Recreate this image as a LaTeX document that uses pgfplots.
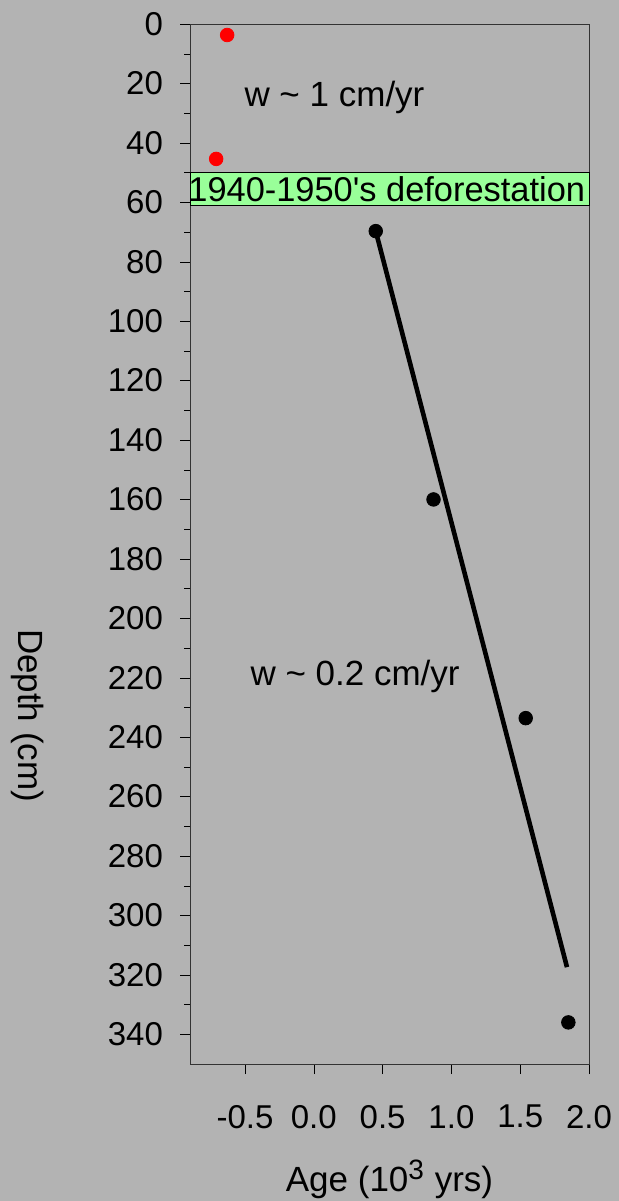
\documentclass[border=0pt]{standalone}
\usepackage{fontspec}
\setmainfont{Liberation Sans}
\usepackage{pgfplots}
\pgfplotsset{compat=1.18}
\definecolor{bggray}{RGB}{179,179,179}
\definecolor{boxgreen}{RGB}{153,255,153}

\begin{document}
\begin{tikzpicture}
\fill[bggray] (0,0) rectangle (309.5pt,600.5pt);
\useasboundingbox (0,0) rectangle (309.5pt,600.5pt);
\begin{axis}[
    at={(95pt,68.5pt)}, anchor=south west,
    width=199.5pt, height=520pt, scale only axis,
    xmin=-0.9, xmax=2.0,
    ymin=0, ymax=350,
    y dir=reverse,
    xtick={-0.5,0,0.5,1,1.5,2},
    ytick={0,20,...,340},
    minor y tick num=1,
    xtick pos=bottom, ytick pos=left,
    tick align=outside,
    major tick length=5pt, minor tick length=3pt,
    axis line style={black!80},
    tick style={black},
    /pgf/number format/assume math mode=true,
    xticklabel style={/pgf/number format/.cd, fixed, fixed zerofill, precision=1, /tikz/.cd, yshift=-12pt},
    yticklabel style={xshift=-5pt},
    every tick label/.append style={font=\fontsize{16.5}{19}\selectfont},
    label style={font=\fontsize{17.5}{21}\selectfont},
    xlabel={Age (10\textsuperscript{\fontsize{14}{16}\selectfont 3} yrs)},
    xlabel style={at={(axis description cs:0.5,-0.111)}, anchor=center},
    ylabel={Depth (cm)},
    ylabel style={at={(axis description cs:-0.408,0.335)}, anchor=center, rotate=180},
    clip=false,
]
\draw[black, fill=boxgreen] (axis cs:-0.9,50) rectangle (axis cs:2.0,61);
\node[font=\fontsize{17.2}{20}\selectfont] at (axis cs:0.53,55.5) {1940-1950\textquotesingle s deforestation};

\addplot[only marks, mark=*, mark size=3.4pt, red] coordinates {
    (-0.63,3.7)
    (-0.71,45.4)
};

\addplot[only marks, mark=*, mark size=3.4pt, black] coordinates {
    (0.45,69.7)
    (0.87,160)
    (1.54,233.6)
    (1.85,336)
};

\addplot[black, line width=2.3pt] coordinates {
    (0.45,69.7)
    (1.84,317.4)
};

\node[font=\fontsize{17.5}{21}\selectfont] at (axis cs:0.15,24.6) {w \textasciitilde{} 1 cm/yr};
\node[font=\fontsize{17.5}{21}\selectfont] at (axis cs:0.30,219.5) {w \textasciitilde{} 0.2 cm/yr};
\end{axis}
\end{tikzpicture}
\end{document}
